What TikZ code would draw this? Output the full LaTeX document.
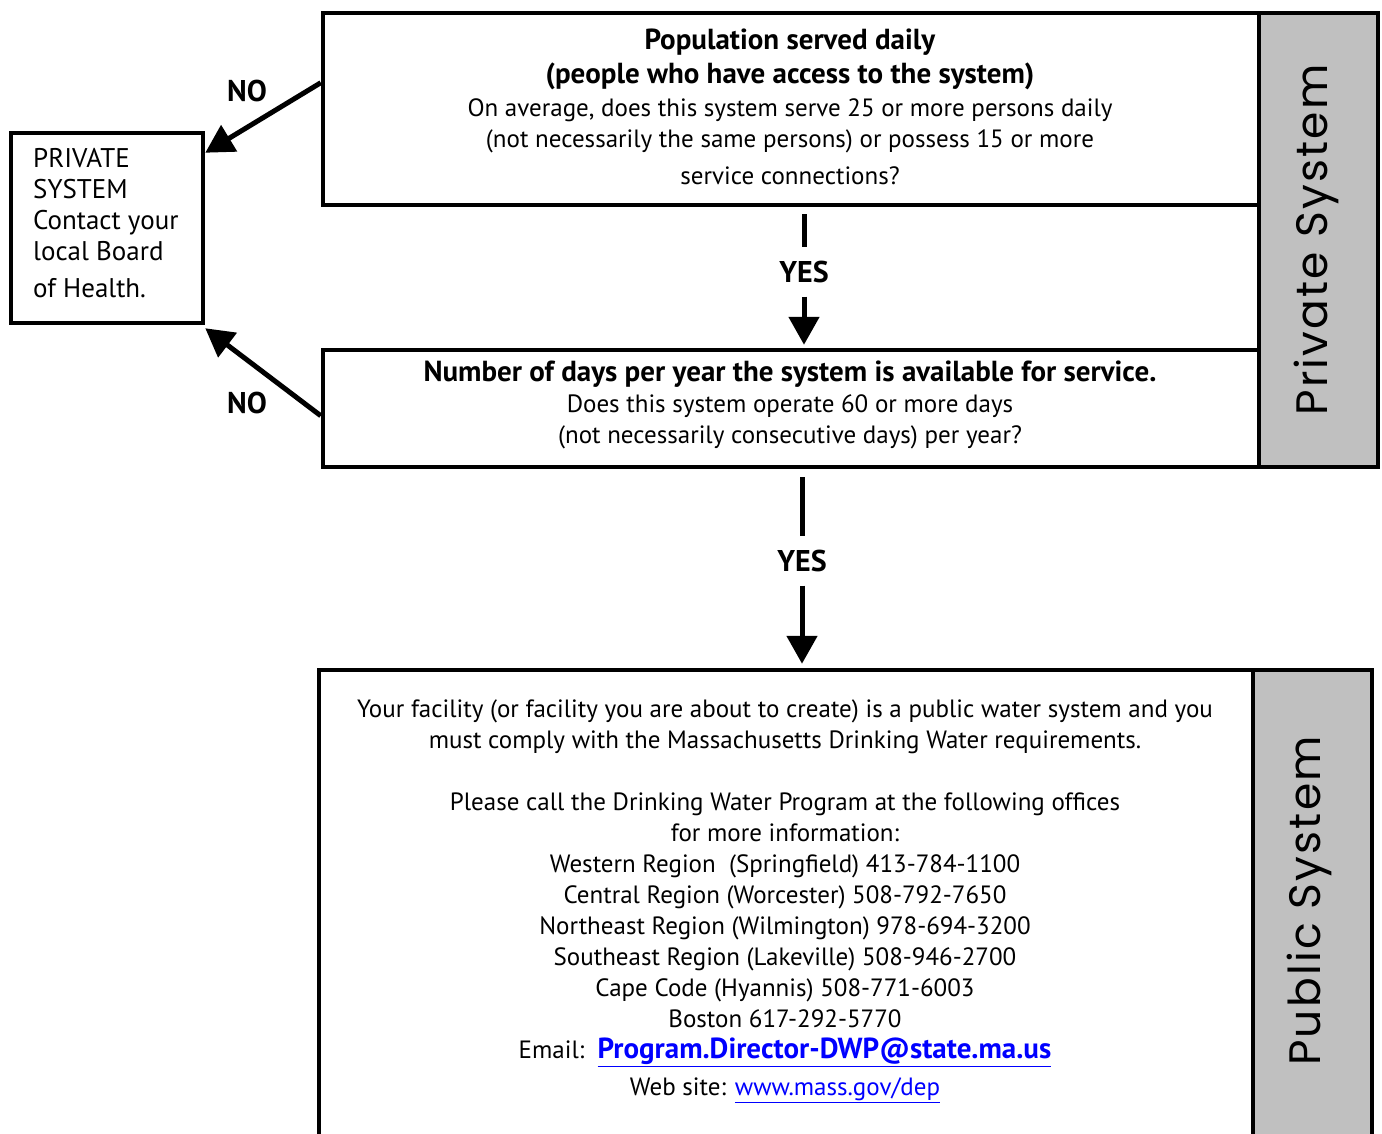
\documentclass[tikz,border=0pt]{standalone}
\usepackage{fontspec}
\setmainfont{PT Sans}
\newfontfamily\sidefont[LetterSpace=5]{Poppins}
\usetikzlibrary{arrows.meta}
\definecolor{sidegray}{RGB}{192,192,192}
\definecolor{linkblue}{RGB}{0,0,255}
\newcommand{\headfont}{\bfseries\fontsize{29}{34}\selectfont}
\begin{document}
\begin{tikzpicture}[x=1pt,y=-1pt,
  box/.style={draw, line width=4.5pt, inner sep=0pt},
  sidebox/.style={draw, line width=4.5pt, fill=sidegray, inner sep=0pt},
  sidetext/.style={rotate=90, font=\sidefont\fontsize{44}{44}\selectfont, inner sep=0pt},
  body/.style={align=center, inner sep=0pt, font=\fontsize{25}{31}\selectfont},
  arr/.style={line width=5pt, -{Triangle[length=28pt,width=30pt]}},
  plainline/.style={line width=5pt},
  lbl/.style={font=\bfseries\fontsize{30}{32}\selectfont, inner sep=0pt},
  yeslbl/.style={lbl, minimum height=49pt}]
\useasboundingbox (0,0) rectangle (1382,1134);
\clip (0,0) rectangle (1382,1134);
% side bars
\node[sidebox, minimum width=119pt, minimum height=454pt] (g1) at (1318.5,240) {};
\node[sidetext] (g1t) at (1316,240) {Private System};
\node[sidebox, minimum width=119pt, minimum height=470pt] (g2) at (1312.5,905) {};
\node[sidetext] (g2t) at (1309,901) {Public System};
% boxes
\node[box, minimum width=936pt, minimum height=192pt] (q1) at (791,109) {};
\node[box, minimum width=936pt, minimum height=117pt] (q2) at (791,408.5) {};
\node[box, minimum width=192pt, minimum height=190pt] (priv) at (107,228) {};
\node[box, minimum width=934pt, minimum height=470pt] (pub) at (786,905) {};
% texts
\node[body] (q1t) at (790,107) {{\headfont Population served daily}\\[3pt]
{\headfont (people who have access to the system)}\\[2pt]
On average, does this system serve 25 or more persons daily\\
(not necessarily the same persons) or possess 15 or more\\[6pt]
service connections?};
\node[body] (q2t) at (790,405) {{\headfont Number of days per year the system is available for service.}\\
Does this system operate 60 or more days\\
(not necessarily consecutive days) per year?};
\node[body, align=left, anchor=west, font=\fontsize{27}{31}\selectfont] (privt) at (33,223) {PRIVATE\\SYSTEM\\Contact your\\local Board\\[6pt]of Health.};
\node[body] (pubt) at (785,901.5) {Your facility (or facility you are about to create) is a public water system and you\\
must comply with the Massachusetts Drinking Water requirements.\\[31pt]
Please call the Drinking Water Program at the following offices\\
for more information:\\
Western Region\ \ (Springfield) 413-784-1100\\
Central Region (Worcester) 508-792-7650\\
Northeast Region (Wilmington) 978-694-3200\\
Southeast Region (Lakeville) 508-946-2700\\
Cape Code (Hyannis) 508-771-6003\\
Boston 617-292-5770\\
Email:\ \ \textcolor{linkblue}{\bfseries\fontsize{29}{31}\selectfont\underline{Program.Director-DWP@state.ma.us}}\\[6pt]
Web site: \textcolor{linkblue}{\underline{www.mass.gov/dep}}};
% labels
\node[lbl] (no1) at (247,91) {NO};
\node[lbl] (no2) at (247,403) {NO};
\node[yeslbl] (yes1) at (804,272) {YES};
\node[yeslbl] (yes2) at (802,561) {YES};
% connectors
\draw[arr] ([yshift=-72pt]q1.north west) -- ([yshift=-22pt]priv.north east);
\draw[arr] ([yshift=-68pt]q2.north west) -- ([yshift=-3pt]priv.south east);
\draw[plainline] ([yshift=-7pt]q1.south -| yes1) -- (yes1.north);
\draw[arr] (yes1.south) -- ([yshift=3pt]q2.north -| yes1);
\draw[plainline] ([yshift=-8pt]q2.south -| yes2) -- (yes2.north);
\draw[arr] (yes2.south) -- ([yshift=4pt]pub.north -| yes2);
\end{tikzpicture}
\end{document}
